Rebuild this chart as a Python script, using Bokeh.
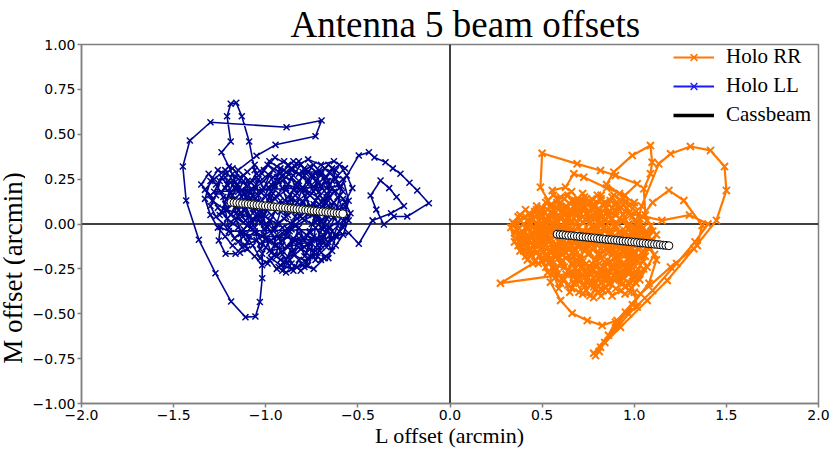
import math
from bokeh.plotting import figure
from bokeh.layouts import row
from bokeh.models import (Span, Legend, LegendItem, CustomJSTickFormatter,
                          FixedTicker, Range1d, Label)
from bokeh.embed import file_html
from bokeh.resources import INLINE

# ---------------- data (L offset, M offset in arcmin) ----------------
x_ticks = [-2.0, -1.5, -1.0, -0.5, 0.0, 0.5, 1.0, 1.5, 2.0]
y_ticks = [-1.0, -0.75, -0.5, -0.25, 0.0, 0.25, 0.5, 0.75, 1.0]

# Holo LL (blue) path, segment by segment
ll_a = [(-0.90,0.10),(-0.84,0.16),(-0.78,0.10),(-0.83,0.03),(-0.91,-0.02),(-0.97,0.05),(-1.03,0.12),(-0.98,0.20),(-0.91,0.24),(-0.86,0.30),
        (-0.80,0.26),(-0.74,0.21),(-0.69,0.14),(-0.64,0.08),(-0.70,0.01),(-0.76,-0.05),(-0.82,-0.11),(-0.88,-0.07),(-0.95,-0.12),(-1.01,-0.06)]
ll_top = [(-1.06,0.30),(-1.09,0.46),(-1.13,0.60),(-1.16,0.675),(-1.19,0.67),(-1.21,0.60),(-1.19,0.46),(-1.24,0.40),(-1.20,0.32)]
ll_b = [(-1.07,0.01),(-1.12,0.08),(-1.17,0.14),(-1.22,0.20),(-1.16,0.26),(-1.10,0.21),(-1.05,0.28),(-0.99,0.33),(-0.93,0.29),(-0.88,0.22),
        (-0.81,0.19),(-0.75,0.27),(-0.68,0.31),(-0.62,0.25),(-0.58,0.18),(-0.63,0.12),(-0.71,0.07),(-0.79,0.02),(-0.86,-0.03),(-0.93,-0.08)]
ll_right = [(-0.72,0.10),(-0.60,0.20),(-0.495,0.382),(-0.44,0.40),(-0.41,0.37),(-0.35,0.344),(-0.31,0.31),(-0.269,0.28),(-0.22,0.23),
            (-0.178,0.187),(-0.115,0.116),(-0.232,0.042),(-0.305,0.042),(-0.359,-0.003),(-0.40,0.08),(-0.431,0.159),(-0.377,0.242),
            (-0.33,0.20),(-0.29,0.15),(-0.25,0.10),(-0.32,0.06),(-0.42,0.02),(-0.495,-0.11),(-0.55,-0.05)]
ll_c = [(-0.98,-0.15),(-0.92,-0.20),(-0.85,-0.17),(-0.78,-0.21),(-0.72,-0.16),(-0.66,-0.10),(-0.60,-0.04),(-0.56,0.03),(-0.61,0.09),(-0.67,0.17),
        (-0.73,0.24),(-0.79,0.31),(-0.85,0.35),(-0.90,0.30),(-0.96,0.26),(-1.02,0.19),(-1.08,0.14),(-1.13,0.06),(-1.19,0.01),(-1.24,0.07)]
ll_left = [(-1.15,0.30),(-1.05,0.38),(-0.947,0.441),(-0.73,0.489),(-0.697,0.577),(-0.887,0.539),(-1.30,0.567),(-1.412,0.465),(-1.45,0.32),
           (-1.432,0.131),(-1.363,-0.088),(-1.273,-0.274),(-1.188,-0.432),(-1.11,-0.519),(-1.056,-0.515),(-1.032,-0.435),(-1.019,-0.302),
           (-1.019,-0.166),(-0.98,-0.10)]
ll_d = [(-1.29,0.13),(-1.33,0.19),(-1.28,0.25),(-1.22,0.30),(-1.17,0.23),(-1.12,0.17),(-1.06,0.09),(-1.00,0.04),(-0.94,0.00),(-0.88,0.05),
        (-0.82,0.09),(-0.76,0.16),(-0.71,0.23),(-0.65,0.29),(-0.60,0.33),(-0.56,0.27),(-0.53,0.20),(-0.57,0.12),(-0.63,0.04),(-0.69,-0.03)]
ll_loop = [(-1.20,-0.04),(-1.246,-0.018),(-1.255,-0.092),(-1.218,-0.166),(-1.164,-0.166),(-1.128,-0.129),(-1.137,-0.055)]
ll_e = [(-0.75,-0.09),(-0.81,-0.14),(-0.87,-0.20),(-0.93,-0.24),(-0.89,-0.27),(-0.83,-0.24),(-0.77,-0.19),(-0.71,-0.13),(-0.65,-0.06),(-0.70,0.02),
        (-0.77,0.06),(-0.84,0.13),(-0.89,0.19),(-0.95,0.14),(-1.01,0.08),(-1.07,0.03),(-1.12,-0.03),(-1.17,-0.08),(-1.11,-0.12),(-1.05,-0.09)]
ll_f = [(-0.99,-0.02),(-0.94,0.09),(-0.88,0.15),(-0.83,0.21),(-0.77,0.17),(-0.71,0.11),(-0.66,0.04),(-0.72,-0.08),(-0.79,-0.13),(-0.85,-0.08),
        (-0.91,-0.15),(-0.97,-0.19),(-0.92,-0.23),(-0.86,-0.25),(-0.80,-0.23),(-0.74,-0.25),(-0.68,-0.19),(-0.62,-0.12),(-0.58,-0.06),(-0.54,0.06)]
ll_g = [(-0.58,0.14),(-0.64,0.20),(-0.70,0.27),(-0.76,0.32),(-0.82,0.28),(-0.88,0.33),(-0.95,0.37),(-1.01,0.30),(-1.07,0.24),(-1.13,0.19),
        (-1.18,0.11),(-1.23,0.15),(-1.27,0.22),(-1.31,0.28),(-1.35,0.22),(-1.30,0.16),(-1.26,0.09),(-1.21,0.03),(-1.15,-0.02),(-1.09,-0.07)]
ll_h = [(-1.03,-0.11),(-0.97,-0.09),(-0.91,-0.05),(-0.85,0.01),(-0.79,0.07),(-0.73,0.13),(-0.67,0.20),(-0.61,0.27),(-0.57,0.31),(-0.63,0.35),
        (-0.70,0.33),(-0.77,0.36),(-0.84,0.32),(-0.91,0.27),(-0.97,0.22),(-1.04,0.16),(-1.10,0.10),(-1.15,0.04),(-1.10,-0.01),(-1.04,0.05)]
ll_i = [(-0.98,0.12),(-0.93,0.17),(-0.87,0.10),(-0.81,0.04),(-0.75,0.00),(-0.69,-0.06),(-0.64,-0.15),(-0.70,-0.20),(-0.76,-0.14),(-0.82,-0.05),
        (-0.88,-0.13),(-0.94,-0.18),(-1.00,-0.13),(-1.05,-0.05),(-1.11,0.02),(-1.16,0.09),(-1.21,0.14),(-1.17,0.20),(-1.12,0.27),(-1.06,0.21)]
ll_j = [(-1.00,0.15),(-0.95,0.21),(-0.89,0.26),(-0.83,0.23),(-0.78,0.19),(-0.72,0.15),(-0.67,0.08),(-0.61,0.01),(-0.66,-0.02),(-0.71,-0.10),
        (-0.78,-0.06),(-0.84,-0.01),(-0.90,0.03),(-0.96,-0.03),(-1.02,-0.07),(-1.08,-0.02),(-1.13,0.12),(-1.07,0.19),(-1.01,0.24),(-0.96,0.30)]
ll_k = [(-1.25,0.05),(-1.22,0.11),(-1.19,0.05),(-1.16,0.12),(-1.13,0.04),(-1.10,0.14),(-1.07,0.06),(-1.04,0.13),(-1.01,0.05),(-0.98,0.15),
        (-0.95,0.07),(-0.92,0.13),(-0.89,0.04),(-0.86,0.14),(-0.83,0.06),(-0.80,0.13),(-0.77,0.05),(-0.74,0.11),(-0.71,0.04),(-0.68,0.12)]
ll_l = [(-0.65,0.18),(-0.68,0.24),(-0.71,0.18),(-0.74,0.27),(-0.77,0.22),(-0.80,0.29),(-0.83,0.17),(-0.86,0.26),(-0.89,0.20),(-0.92,0.31),
        (-0.95,0.22),(-0.98,0.27),(-1.01,0.20),(-1.04,0.25),(-1.07,0.16),(-1.10,0.24),(-1.13,0.15),(-1.16,0.20),(-1.20,0.24),(-1.24,0.18)]
ll_m = [(-1.20,-0.02),(-1.16,0.02),(-1.13,-0.05),(-1.10,-0.10),(-1.06,-0.04),(-1.03,-0.14),(-1.00,-0.08),(-0.97,-0.16),(-0.94,-0.06),(-0.91,-0.12),
        (-0.88,-0.03),(-0.85,-0.16),(-0.82,-0.08),(-0.79,-0.18),(-0.76,-0.10),(-0.73,-0.20),(-0.70,-0.12),(-0.67,-0.03),(-0.64,-0.09),(-0.61,-0.01)]
ll_n = [(-0.58,0.08),(-0.61,0.15),(-0.64,0.10),(-0.67,0.03),(-0.70,-0.02),(-0.73,0.06),(-0.76,-0.04),(-0.79,-0.09),(-0.82,-0.02),(-0.85,-0.10),
        (-0.88,-0.18),(-0.91,-0.26),(-0.86,-0.22),(-0.81,-0.26),(-0.77,-0.23),(-0.73,-0.13),(-0.69,-0.09),(-0.65,-0.02),(-0.62,0.05),(-0.59,0.21)]
ll_o = [(-1.28,0.18),(-1.25,0.24),(-1.22,0.26),(-1.19,0.18),(-1.16,0.06),(-1.13,0.10),(-1.10,0.18),(-1.07,0.10),(-1.04,0.02),(-1.01,-0.03),
        (-0.98,0.02),(-0.95,-0.03),(-0.92,0.07),(-0.89,0.11),(-0.86,0.07),(-0.83,0.12),(-0.80,0.20),(-0.77,0.25),(-0.74,0.18),(-0.71,0.30)]
ll_p = [(-0.67,0.26),(-0.64,0.31),(-0.61,0.22),(-0.58,0.25),(-0.55,0.13),(-0.58,0.02),(-0.61,-0.07),(-0.64,-0.04),(-0.67,-0.13),(-0.70,-0.07),
        (-0.73,-0.02),(-0.76,-0.18),(-0.79,-0.24),(-0.82,-0.20),(-0.85,-0.26),(-0.88,-0.22),(-0.91,-0.17),(-0.94,-0.12),(-0.97,-0.05),(-1.00,0.00)]
ll_q = [(-1.03,0.08),(-1.06,0.14),(-1.09,0.18),(-1.12,0.24),(-1.15,0.18),(-1.18,0.28),(-1.21,0.22),(-1.24,0.26),(-1.27,0.16),(-1.30,0.10),
        (-1.27,0.04),(-1.23,0.00),(-1.19,-0.05),(-1.15,-0.10),(-1.11,-0.06),(-1.07,-0.12),(-1.03,-0.19),(-0.99,-0.22),(-0.95,-0.17),(-0.91,-0.09)]
ll_r = [(-0.87,-0.04),(-0.84,0.04),(-0.81,0.10),(-0.78,0.14),(-0.75,0.08),(-0.72,0.02),(-0.69,0.09),(-0.66,0.13),(-0.63,0.18),(-0.66,0.24),
        (-0.70,0.21),(-0.73,0.29),(-0.77,0.29),(-0.81,0.33),(-0.85,0.27),(-0.89,0.29),(-0.93,0.24),(-0.96,0.17),(-0.99,0.09),(-1.02,0.01)]
ll_s = [(-1.21,0.08),(-1.18,0.16),(-1.15,0.22),(-1.12,0.12),(-1.09,0.04),(-1.06,-0.02),(-1.03,0.05),(-1.00,0.11),(-0.97,0.18),(-0.94,0.26),
        (-0.91,0.20),(-0.88,0.12),(-0.85,0.19),(-0.82,0.24),(-0.79,0.16),(-0.76,0.09),(-0.73,0.01),(-0.70,0.08),(-0.67,0.15),(-0.64,0.24)]
ll_t = [(-0.62,0.30),(-0.66,0.33),(-0.70,0.28),(-0.74,0.33),(-0.78,0.28),(-0.82,0.35),(-0.86,0.31),(-0.90,0.35),(-0.94,0.32),(-0.98,0.35),
        (-1.02,0.28),(-1.06,0.33),(-1.10,0.29),(-1.14,0.26),(-1.18,0.31),(-1.22,0.28),(-1.26,0.30),(-1.30,0.24),(-1.33,0.14),(-1.30,0.05)]
ll_u = [(-1.26,-0.02),(-1.22,-0.07),(-1.18,-0.12),(-1.14,-0.16),(-1.10,-0.14),(-1.06,-0.18),(-1.02,-0.23),(-0.98,-0.20),(-0.94,-0.25),(-0.90,-0.21),
        (-0.86,-0.15),(-0.82,-0.13),(-0.78,-0.16),(-0.74,-0.07),(-0.70,-0.16),(-0.66,-0.19),(-0.62,-0.07),(-0.58,-0.02),(-0.55,0.02),(-0.57,0.10)]

# Holo RR (orange) path, segment by segment
rr_a = [(0.60,-0.05),(0.66,0.02),(0.72,-0.04),(0.78,0.03),(0.84,-0.02),(0.90,0.05),(0.96,-0.01),(1.02,-0.07),(0.97,-0.13),(0.91,-0.19),
        (0.85,-0.14),(0.79,-0.20),(0.73,-0.15),(0.67,-0.22),(0.61,-0.17),(0.55,-0.11),(0.49,-0.06),(0.44,0.00),(0.39,-0.04),(0.34,0.01)]
rr_low = [(0.40,-0.12),(0.52,-0.20),(0.672,-0.274),(0.274,-0.33),(0.45,-0.22),(0.555,-0.203),(0.545,-0.324),(0.60,-0.426),(0.663,-0.497),
          (0.745,-0.538),(0.826,-0.565),(0.907,-0.538),(0.952,-0.491),(1.016,-0.463),(1.00,-0.38),(0.943,-0.30)]
rr_b = [(0.38,-0.09),(0.43,-0.14),(0.48,-0.10),(0.53,-0.03),(0.58,0.04),(0.63,0.10),(0.69,0.06),(0.75,0.11),(0.81,0.08),(0.87,0.13),
        (0.93,0.09),(0.99,0.04),(1.05,-0.02),(1.09,-0.09),(1.04,-0.16),(0.99,-0.22),(0.94,-0.28),(0.88,-0.24),(0.82,-0.30),(0.76,-0.26)]
rr_top = [(0.62,-0.05),(0.55,0.10),(0.491,0.205),(0.50,0.394),(0.69,0.335),(0.817,0.298),(0.898,0.27),(1.016,0.224),(0.95,0.16),(0.85,0.20),
          (0.726,0.261),(0.672,0.28),(0.627,0.205),(0.555,0.187),(0.60,0.10)]
rr_c = [(0.70,-0.31),(0.65,-0.27),(0.60,-0.22),(0.55,-0.16),(0.50,-0.13),(0.45,-0.07),(0.41,0.04),(0.47,0.08),(0.52,0.03),(0.57,-0.02),
        (0.63,-0.08),(0.69,-0.12),(0.75,-0.07),(0.81,-0.11),(0.87,-0.06),(0.93,-0.11),(0.99,-0.16),(1.05,-0.12),(1.10,-0.04),(1.06,0.05)]
rr_heart1 = [(1.052,0.196),(1.088,0.28),(1.097,0.344),(1.088,0.437),(0.989,0.382),(0.889,0.289),(0.85,0.22),(0.92,0.17),(1.00,0.12)]
rr_d = [(1.00,0.10),(0.94,0.14),(0.88,0.09),(0.82,0.14),(0.76,0.07),(0.70,0.12),(0.64,0.06),(0.58,0.12),(0.53,0.08),(0.48,0.02),
        (0.53,-0.06),(0.59,-0.13),(0.65,-0.18),(0.71,-0.24),(0.77,-0.33),(0.83,-0.37),(0.89,-0.31),(0.95,-0.35),(1.00,-0.29),(0.96,-0.23)]
rr_heart2 = [(1.04,0.10),(1.133,0.335),(1.197,0.391),(1.305,0.432),(1.414,0.41),(1.49,0.32),(1.50,0.187),(1.446,0.02),(1.323,-0.138),
             (1.179,-0.315),(1.07,-0.426),(0.925,-0.575),(0.817,-0.686),(0.79,-0.733),(0.81,-0.71),(0.898,-0.547),(1.034,-0.389),
             (1.197,-0.24),(1.342,-0.12),(1.369,-0.008),(1.269,0.131),(1.188,0.187),(1.10,0.12)]
rr_e = [(0.90,-0.16),(0.84,-0.08),(0.78,-0.01),(0.72,0.04),(0.66,-0.03),(0.60,-0.09),(0.54,-0.21),(0.58,-0.28),(0.64,-0.34),(0.70,-0.38),
        (0.76,-0.40),(0.82,-0.33),(0.86,-0.26),(0.92,-0.22),(0.98,-0.26),(1.03,-0.31),(1.07,-0.24),(1.11,-0.17),(1.07,-0.10),(1.02,-0.01)]
rr_strand = [(1.12,-0.20),(1.08,-0.33),(0.99,-0.45),(0.86,-0.62),(0.78,-0.72),(0.84,-0.66),(0.97,-0.50),(1.10,-0.37),(1.23,-0.22),
             (1.33,-0.10),(1.40,0.00),(1.30,0.05),(1.15,0.02)]
rr_f = [(0.97,0.06),(0.91,0.00),(0.85,0.06),(0.79,0.10),(0.73,0.15),(0.67,0.13),(0.61,0.07),(0.56,0.00),(0.51,-0.07),(0.46,-0.12),
        (0.40,-0.15),(0.36,-0.08),(0.42,-0.03),(0.47,0.05),(0.52,0.12),(0.56,0.16),(0.62,0.14),(0.68,0.09),(0.74,0.02),(0.80,-0.05)]
rr_g = [(0.86,-0.10),(0.92,-0.04),(0.98,-0.08),(1.03,-0.13),(0.97,-0.19),(0.91,-0.25),(0.86,-0.33),(0.80,-0.28),(0.74,-0.22),(0.68,-0.17),
        (0.62,-0.13),(0.57,-0.06),(0.63,0.00),(0.69,-0.06),(0.75,-0.12),(0.81,-0.17),(0.87,-0.21),(0.93,-0.17),(0.99,-0.11),(1.04,-0.05)]
rr_h = [(0.58,-0.12),(0.63,-0.16),(0.68,-0.10),(0.73,-0.05),(0.78,-0.10),(0.83,-0.15),(0.88,-0.11),(0.93,-0.06),(0.88,0.00),(0.83,0.04),
        (0.77,0.08),(0.72,0.01),(0.67,-0.04),(0.62,0.01),(0.57,0.06),(0.52,0.01),(0.47,-0.04),(0.42,-0.09),(0.37,-0.12),(0.41,-0.18)]
rr_i = [(0.47,-0.16),(0.52,-0.12),(0.57,-0.18),(0.62,-0.24),(0.67,-0.29),(0.72,-0.34),(0.78,-0.30),(0.83,-0.24),(0.89,-0.19),(0.95,-0.14),
        (1.00,-0.19),(1.05,-0.25),(1.01,-0.33),(0.95,-0.39),(0.90,-0.36),(0.84,-0.30),(0.79,-0.36),(0.73,-0.30),(0.68,-0.25),(0.63,-0.19)]
rr_j = [(0.58,-0.15),(0.53,-0.09),(0.48,-0.01),(0.43,0.06),(0.38,0.02),(0.35,-0.05),(0.40,-0.10),(0.45,-0.05),(0.50,0.04),(0.55,0.11),
        (0.60,0.15),(0.66,0.18),(0.71,0.12),(0.77,0.14),(0.83,0.11),(0.89,0.16),(0.95,0.12),(1.01,0.07),(1.07,0.02),(1.12,-0.06)]
rr_k = [(1.08,-0.14),(1.02,-0.20),(0.96,-0.17),(0.90,-0.10),(0.84,-0.04),(0.78,-0.08),(0.72,-0.13),(0.66,-0.08),(0.60,-0.02),(0.55,0.04),
        (0.50,-0.02),(0.46,-0.09),(0.51,-0.15),(0.56,-0.24),(0.61,-0.30),(0.66,-0.36),(0.72,-0.28),(0.77,-0.22),(0.82,-0.19),(0.87,-0.15)]
rr_l = [(0.92,-0.08),(0.97,-0.03),(1.02,-0.10),(0.97,-0.15),(0.92,-0.20),(0.97,-0.27),(0.92,-0.31),(0.87,-0.27),(0.81,-0.22),(0.75,-0.17),
        (0.69,-0.21),(0.64,-0.13),(0.59,-0.06),(0.64,0.04),(0.70,0.09),(0.76,0.04),(0.82,0.01),(0.88,0.06),(0.94,0.02),(0.99,-0.04)]
rr_m = [(0.45,-0.02),(0.48,-0.08),(0.51,-0.03),(0.54,-0.09),(0.57,-0.04),(0.60,-0.11),(0.63,-0.05),(0.66,-0.12),(0.69,-0.06),(0.72,-0.11),
        (0.75,-0.03),(0.78,-0.13),(0.81,-0.06),(0.84,-0.12),(0.87,-0.03),(0.90,-0.13),(0.93,-0.07),(0.96,-0.12),(0.99,-0.05),(1.02,-0.14)]
rr_n = [(1.00,-0.21),(0.97,-0.28),(0.94,-0.22),(0.91,-0.30),(0.88,-0.23),(0.85,-0.29),(0.82,-0.25),(0.79,-0.33),(0.76,-0.27),(0.73,-0.35),
        (0.70,-0.27),(0.67,-0.33),(0.64,-0.26),(0.61,-0.20),(0.58,-0.25),(0.55,-0.19),(0.52,-0.24),(0.49,-0.17),(0.46,-0.21),(0.43,-0.15)]
rr_o = [(0.40,-0.06),(0.43,0.01),(0.46,-0.03),(0.49,0.05),(0.52,-0.01),(0.55,0.07),(0.58,0.01),(0.61,0.09),(0.64,0.03),(0.67,0.10),
        (0.70,0.03),(0.73,0.09),(0.76,0.01),(0.79,0.06),(0.82,-0.01),(0.85,0.09),(0.88,0.03),(0.91,0.10),(0.94,0.05),(0.97,0.00)]
rr_p = [(1.00,-0.02),(1.03,0.03),(1.06,-0.06),(1.09,-0.01),(1.06,-0.18),(1.02,-0.25),(0.98,-0.33),(0.93,-0.37),(0.88,-0.40),(0.84,-0.35),
        (0.80,-0.38),(0.76,-0.34),(0.72,-0.39),(0.68,-0.31),(0.65,-0.38),(0.62,-0.31),(0.59,-0.36),(0.57,-0.30),(0.53,-0.27),(0.50,-0.21)]
rr_q = [(0.46,-0.14),(0.42,-0.20),(0.38,-0.15),(0.35,-0.10),(0.33,-0.02),(0.37,0.04),(0.41,0.08),(0.44,0.03),(0.47,0.10),(0.50,0.07),
        (0.53,0.13),(0.56,0.08),(0.60,0.12),(0.64,0.16),(0.68,0.13),(0.72,0.17),(0.76,0.12),(0.80,0.16),(0.84,0.12),(0.88,0.15)]
rr_r = [(0.90,0.12),(0.87,0.07),(0.84,0.02),(0.81,0.05),(0.78,0.11),(0.75,0.06),(0.72,0.10),(0.69,0.01),(0.66,0.06),(0.63,-0.01),
        (0.60,0.04),(0.57,-0.07),(0.54,-0.02),(0.51,-0.10),(0.48,-0.05),(0.45,-0.12),(0.42,-0.06),(0.39,-0.10),(0.36,-0.03),(0.40,0.00)]
rr_s = [(0.44,-0.17),(0.48,-0.22),(0.52,-0.17),(0.56,-0.27),(0.60,-0.33),(0.63,-0.28),(0.66,-0.22),(0.69,-0.28),(0.72,-0.21),(0.75,-0.30),
        (0.78,-0.25),(0.81,-0.31),(0.84,-0.21),(0.87,-0.33),(0.90,-0.26),(0.93,-0.32),(0.96,-0.24),(0.99,-0.29),(1.02,-0.18),(1.05,-0.21)]
rr_t = [(1.08,-0.07),(1.04,-0.09),(1.01,-0.02),(0.98,-0.10),(0.95,-0.04),(0.92,-0.14),(0.89,-0.07),(0.86,-0.16),(0.83,-0.09),(0.80,-0.17),
        (0.77,-0.06),(0.74,-0.14),(0.71,-0.08),(0.68,-0.15),(0.65,-0.09),(0.62,-0.15),(0.59,-0.10),(0.56,-0.14),(0.53,-0.06),(0.50,-0.11)]
rr_u = [(0.47,0.00),(0.50,0.09),(0.54,0.03),(0.58,0.09),(0.62,0.05),(0.66,0.13),(0.70,0.07),(0.74,0.14),(0.78,0.09),(0.82,0.16),
        (0.86,0.04),(0.90,-0.01),(0.94,-0.09),(0.98,-0.19),(0.94,-0.26),(0.90,-0.22),(0.86,-0.29),(0.82,-0.36),(0.78,-0.41),(0.74,-0.37)]
rr_v = [(0.70,-0.02),(0.73,-0.09),(0.76,-0.16),(0.79,-0.23),(0.82,-0.28),(0.85,-0.22),(0.88,-0.16),(0.91,-0.08),(0.94,-0.15),(0.97,-0.22),
        (1.00,-0.12),(1.03,-0.03),(1.00,0.02),(0.96,0.09),(0.92,0.03),(0.88,-0.05),(0.84,-0.10),(0.80,-0.02),(0.76,0.04),(0.72,0.12)]
rr_w = [(0.68,0.05),(0.65,-0.02),(0.62,-0.09),(0.59,-0.19),(0.56,-0.12),(0.53,-0.18),(0.50,-0.16),(0.47,-0.10),(0.44,-0.08),(0.41,-0.13),
        (0.38,-0.06),(0.35,0.00),(0.38,0.05),(0.42,0.02),(0.46,0.07),(0.50,0.00),(0.54,-0.05),(0.58,-0.03),(0.62,-0.12),(0.66,-0.16)]
rr_z = [(0.70,-0.22),(0.74,-0.28),(0.78,-0.35),(0.82,-0.40),(0.86,-0.37),(0.90,-0.30),(0.94,-0.33),(0.98,-0.38),(1.02,-0.28),(1.05,-0.17),
        (1.08,-0.11),(1.05,-0.06),(1.02,0.00),(0.98,0.05),(0.94,0.11),(0.90,0.07),(0.86,0.11),(0.82,0.06),(0.78,-0.04),(0.74,-0.10)]

# Cassbeam predicted offsets
cass_ll_l = [-1.188,-1.172,-1.157,-1.141,-1.126,-1.110,-1.095,-1.079,-1.064,-1.048,-1.033,-1.017,-1.002,-0.986,-0.970,-0.955,
             -0.939,-0.924,-0.908,-0.893,-0.877,-0.862,-0.846,-0.831,-0.815,-0.800,-0.784,-0.769,-0.753,-0.738,-0.722,-0.706,
             -0.691,-0.675,-0.660,-0.644,-0.629,-0.613,-0.598,-0.582]
cass_ll_m = [0.121,0.119,0.118,0.116,0.114,0.113,0.111,0.110,0.108,0.106,0.105,0.103,0.101,0.100,0.098,0.096,0.095,0.093,0.091,
             0.090,0.088,0.087,0.085,0.083,0.082,0.080,0.078,0.077,0.075,0.073,0.072,0.070,0.068,0.067,0.065,0.064,0.062,0.060,
             0.059,0.057]
cass_rr_l = [0.582,0.598,0.613,0.629,0.644,0.660,0.675,0.691,0.706,0.722,0.738,0.753,0.769,0.784,0.800,0.815,0.831,0.846,0.862,
             0.877,0.893,0.908,0.924,0.939,0.955,0.970,0.986,1.002,1.017,1.033,1.048,1.064,1.079,1.095,1.110,1.126,1.141,1.157,
             1.172,1.188]
cass_rr_m = [-0.057,-0.059,-0.060,-0.062,-0.064,-0.065,-0.067,-0.068,-0.070,-0.072,-0.073,-0.075,-0.077,-0.078,-0.080,-0.082,
             -0.083,-0.085,-0.087,-0.088,-0.090,-0.091,-0.093,-0.095,-0.096,-0.098,-0.100,-0.101,-0.103,-0.105,-0.106,-0.108,
             -0.110,-0.111,-0.113,-0.114,-0.116,-0.118,-0.119,-0.121]

ll_path = (ll_a + ll_top + ll_b + ll_right + ll_c + ll_left + ll_d + ll_loop + ll_e + ll_f + ll_g + ll_h + ll_i + ll_j
           + ll_k + ll_l + ll_m + ll_n + ll_o + ll_p + ll_q + ll_r + ll_s + ll_t + ll_u)
rr_path = (rr_a + rr_low + rr_b + rr_top + rr_c + rr_heart1 + rr_d + rr_heart2 + rr_e + rr_strand + rr_f + rr_g + rr_h
           + rr_i + rr_j + rr_k + rr_l + rr_m + rr_n + rr_o + rr_p + rr_q + rr_r + rr_s + rr_t + rr_u + rr_v + rr_w + rr_z)

ll_x = [p[0] for p in ll_path]; ll_y = [p[1] for p in ll_path]
rr_x = [p[0] for p in rr_path]; rr_y = [p[1] for p in rr_path]

ORANGE = "#ff7800"
NAVY = "#00068f"
SERIF = "Liberation Serif"
SANS = "DejaVu Sans"
NAN = float("nan")

LABEL_W = 25          # width of the strip that holds the y-axis title
FIG_H = 44 + 359 + 50

p = figure(frame_width=737, frame_height=359,
           x_range=Range1d(-2, 2), y_range=Range1d(-1, 1),
           output_backend="svg", toolbar_location=None,
           min_border_left=81 - LABEL_W, min_border_right=12, min_border_top=44, min_border_bottom=50)
p.grid.visible = False
p.outline_line_color = "#808080"
p.outline_line_width = 1.5
p.background_fill_color = "white"

p.title.text = "Antenna 5 beam offsets"
p.title.text_font = SERIF
p.title.text_font_size = "37px"
p.title.text_font_style = "normal"
p.title.text_color = "black"
p.title.align = "left"
p.title.offset = 209
p.title.standoff = 0

for ax in (p.xaxis[0], p.yaxis[0]):
    ax.axis_line_color = "#808080"
    ax.axis_line_width = 1.5
    ax.major_tick_line_color = "#808080"
    ax.major_tick_line_width = 1.5
    ax.major_tick_out = 4
    ax.major_tick_in = 0
    ax.minor_tick_line_color = None
    ax.major_label_text_font = SANS
    ax.major_label_text_font_size = "14px"
    ax.major_label_text_color = "black"
    ax.major_label_standoff = 2
    ax.axis_label_text_font = SERIF
    ax.axis_label_text_font_style = "normal"
    ax.axis_label_text_color = "black"

p.xaxis.axis_label = "L offset (arcmin)"
p.xaxis.axis_label_text_font_size = "22px"
p.xaxis.axis_label_standoff = 0

p.xaxis.ticker = FixedTicker(ticks=x_ticks)
p.yaxis.ticker = FixedTicker(ticks=y_ticks)
p.xaxis.formatter = CustomJSTickFormatter(code="return (tick < 0 ? '\u2212' : '') + Math.abs(tick).toFixed(1);")
p.yaxis.formatter = CustomJSTickFormatter(code="return (tick < 0 ? '\u2212' : '') + Math.abs(tick).toFixed(2);")

p.add_layout(Span(location=0, dimension="height", line_color="black", line_width=1.5, level="underlay"))
p.add_layout(Span(location=0, dimension="width", line_color="black", line_width=1.5, level="underlay"))

# data
p.line(rr_x, rr_y, line_color=ORANGE, line_width=2.2)
p.scatter(rr_x, rr_y, marker="x", size=10, line_color=ORANGE, line_width=2.0)
p.line(ll_x, ll_y, line_color=NAVY, line_width=1.6)
p.scatter(ll_x, ll_y, marker="x", size=8.5, line_color=NAVY, line_width=1.5)
p.scatter(cass_ll_l, cass_ll_m, marker="circle", size=8, fill_color="white", line_color="black", line_width=1)
p.scatter(cass_rr_l, cass_rr_m, marker="circle", size=8, fill_color="white", line_color="black", line_width=1)

# legend proxies (single NaN point so the legend draws their glyphs)
lr1 = p.line([NAN], [NAN], line_color=ORANGE, line_width=1.8)
lr2 = p.scatter([NAN], [NAN], marker="x", size=7, line_color=ORANGE, line_width=1.6)
ll1 = p.line([NAN], [NAN], line_color="#1a1aff", line_width=1.8)
ll2 = p.scatter([NAN], [NAN], marker="x", size=6, line_color="#1a1aff", line_width=1.4)
lc = p.line([NAN], [NAN], line_color="black", line_width=3.5)
legend = Legend(items=[LegendItem(label="Holo RR", renderers=[lr1, lr2]),
                       LegendItem(label="Holo LL", renderers=[ll1, ll2]),
                       LegendItem(label="Cassbeam", renderers=[lc])],
                location=(592, 276), padding=0, margin=0, spacing=4,
                glyph_width=41, glyph_height=24, label_height=24, label_standoff=12,
                label_text_font=SERIF, label_text_font_size="21px", label_text_color="black",
                border_line_alpha=0, background_fill_alpha=0)
p.add_layout(legend)

# narrow strip on the left carrying the y-axis title
lab = figure(frame_width=LABEL_W, frame_height=FIG_H, x_range=Range1d(0, LABEL_W), y_range=Range1d(0, FIG_H),
             x_axis_type=None, y_axis_type=None, output_backend="svg", toolbar_location=None,
             min_border=0, outline_line_color=None)
lab.grid.visible = False
lab.add_layout(Label(x=12.5, y=FIG_H - 223.5, text="M offset (arcmin)", angle=math.pi / 2,
                     text_align="center", text_baseline="middle", text_font=SERIF, text_font_size="27px",
                     text_color="black"))

layout = row(lab, p, spacing=0)
open("out.html", "w").write(file_html(layout, INLINE))
